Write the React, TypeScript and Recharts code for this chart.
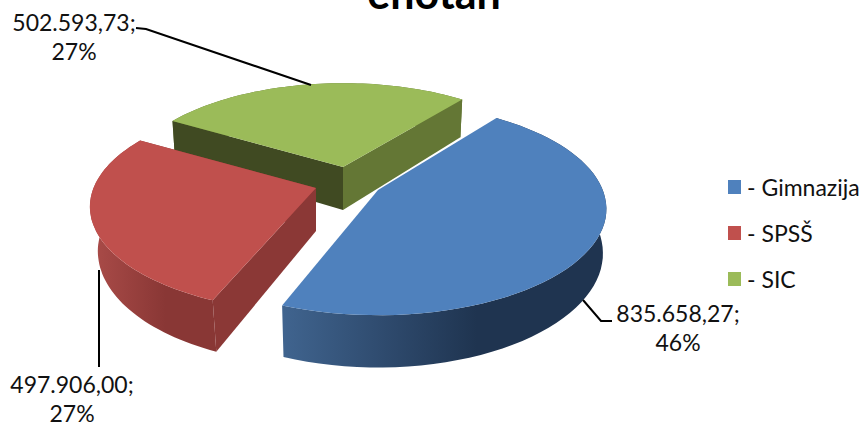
import { PieChart, Pie, Legend } from "recharts";

const categories = ["- Gimnazija", "- SPSŠ", "- SIC"];
const values = [835658.27, 497906.0, 502593.73];
const colors = ["#4f81bd", "#c0504d", "#9bbb59"];
// side walls: [left, right] of the gradient, then the two cut faces
const wallColors = [["#40648f", "#1f3450"], ["#ab4c49", "#893735"], ["#5f7231", "#5f7231"]];
const startFace = ["none", "#8b3836", "#647735"];
const endFace = ["none", "#8b3836", "#404a22"];
// how far each slice is pulled out from the pie centre, and small per-slice fixes
const explodeX = [35, -27, 0];
const explodeY = [4, 2, -19];
const radiusScale = [0.99, 0.98, 0.95];
const angleShift = [-1, -3, -3];
const bottomScale = [0.985, 0.965, 0.985];
const labelX = [678, 72, 74];
const labelY = [322, 393, 31];
const leaders = [
  "583,300 601,321 612,321",
  "99,270 99,367",
  "136,28 146,29 311,85",
];

const FONT = "Lato, 'Noto Sans', sans-serif";
const SQUASH = 0.458;
const PERSP = 0.178;
const DEPTH = 43;

// painted back to front, so the big blue slice goes last
const table = categories.map((name, i) => ({ name, value: values[i], idx: i })).reverse();

function project(cx: number, cy: number, r: number, deg: number) {
  const a = (deg * Math.PI) / 180;
  const u = Math.cos(a);
  const v = Math.sin(a);
  const f = 1 / (1 + PERSP * v);
  return { x: cx + u * r * f, y: cy - v * r * SQUASH * f, f };
}

const pts = (list: { x: number; y: number }[]) =>
  list.map((p) => `${p.x.toFixed(1)},${p.y.toFixed(1)}`).join(" ");

function Slice3D(props: any) {
  const { cx, cy, outerRadius, startAngle, endAngle, payload } = props;
  const idx = payload.idx;
  const ox = cx + explodeX[idx];
  const oy = cy + explodeY[idx];
  const r = outerRadius * radiusScale[idx];
  const arc: { x: number; y: number; f: number }[] = [];
  const steps = 60;
  for (let s = 0; s <= steps; s++) {
    arc.push(project(ox, oy, r, startAngle + angleShift[idx] + ((endAngle - startAngle) * s) / steps));
  }
  const low = (p: { x: number; y: number; f: number }) => ({
    x: ox + (p.x - ox) * bottomScale[idx],
    y: p.y + DEPTH * p.f,
  });
  const apex = { x: ox, y: oy, f: 1 };
  const first = arc[0];
  const last = arc[arc.length - 1];
  const gid = `wall-${idx}`;
  return (
    <g>
      <defs>
        <linearGradient id={gid} x1="0" y1="0" x2="1" y2="0">
          <stop offset="0" stopColor={wallColors[idx][0]} />
          <stop offset="0.6" stopColor={wallColors[idx][1]} />
          <stop offset="1" stopColor={wallColors[idx][1]} />
        </linearGradient>
      </defs>
      <polygon points={pts([...arc, ...arc.map(low).reverse()])} fill={`url(#${gid})`} />
      <polygon points={pts([apex, first, low(first), low(apex)])} fill={startFace[idx]} />
      <polygon points={pts([apex, last, low(last), low(apex)])} fill={endFace[idx]} />
      <polygon points={pts([apex, ...arc])} fill={colors[idx]} />
    </g>
  );
}

function SliceLabel(props: any) {
  const { payload, value, percent } = props;
  const idx = payload.idx;
  const text = value.toLocaleString("de-DE", { minimumFractionDigits: 2, maximumFractionDigits: 2 });
  return (
    <g>
      <polyline points={leaders[idx]} fill="none" stroke="#000" strokeWidth={2} />
      <text x={labelX[idx]} y={labelY[idx]} textAnchor="middle" fontSize={23} fontFamily={FONT} fill="#111">
        {text};
      </text>
      <text x={labelX[idx]} y={labelY[idx] + 29} textAnchor="middle" fontSize={23} fontFamily={FONT} fill="#111">
        {Math.round(percent * 100)}%
      </text>
    </g>
  );
}

function LegendBox() {
  return (
    <div style={{ position: "relative", fontFamily: FONT, fontSize: 23, color: "#111" }}>
      {categories.map((name, i) => (
        <div key={name} style={{ position: "absolute", left: 0, top: i * 46, height: 30, display: "flex", alignItems: "center", whiteSpace: "nowrap" }}>
          <span style={{ display: "inline-block", width: 13, height: 14, background: colors[i], marginRight: 6 }} />
          {name}
        </div>
      ))}
    </div>
  );
}

export default function App() {
  return (
    <div style={{ position: "absolute", left: 0, top: 0, width: 866, height: 425, overflow: "hidden", background: "#fff" }}>
      <PieChart width={866} height={425} margin={{ top: 0, right: 0, bottom: 0, left: 0 }}>
        <text x={434} y={9} textAnchor="middle" fontSize={43} fontWeight={700} fontFamily={FONT} fill="#000">
          enotah
        </text>
        <Pie
          data={table}
          dataKey="value"
          nameKey="name"
          cx={343}
          cy={186}
          outerRadius={227}
          startAngle={-306}
          endAngle={54}
          stroke="none"
          shape={Slice3D}
          label={SliceLabel}
          labelLine={false}
          isAnimationActive={false}
        />
        <Legend content={LegendBox} wrapperStyle={{ position: "absolute", left: 728, top: 172, width: 138, height: 130 }} />
      </PieChart>
    </div>
  );
}
